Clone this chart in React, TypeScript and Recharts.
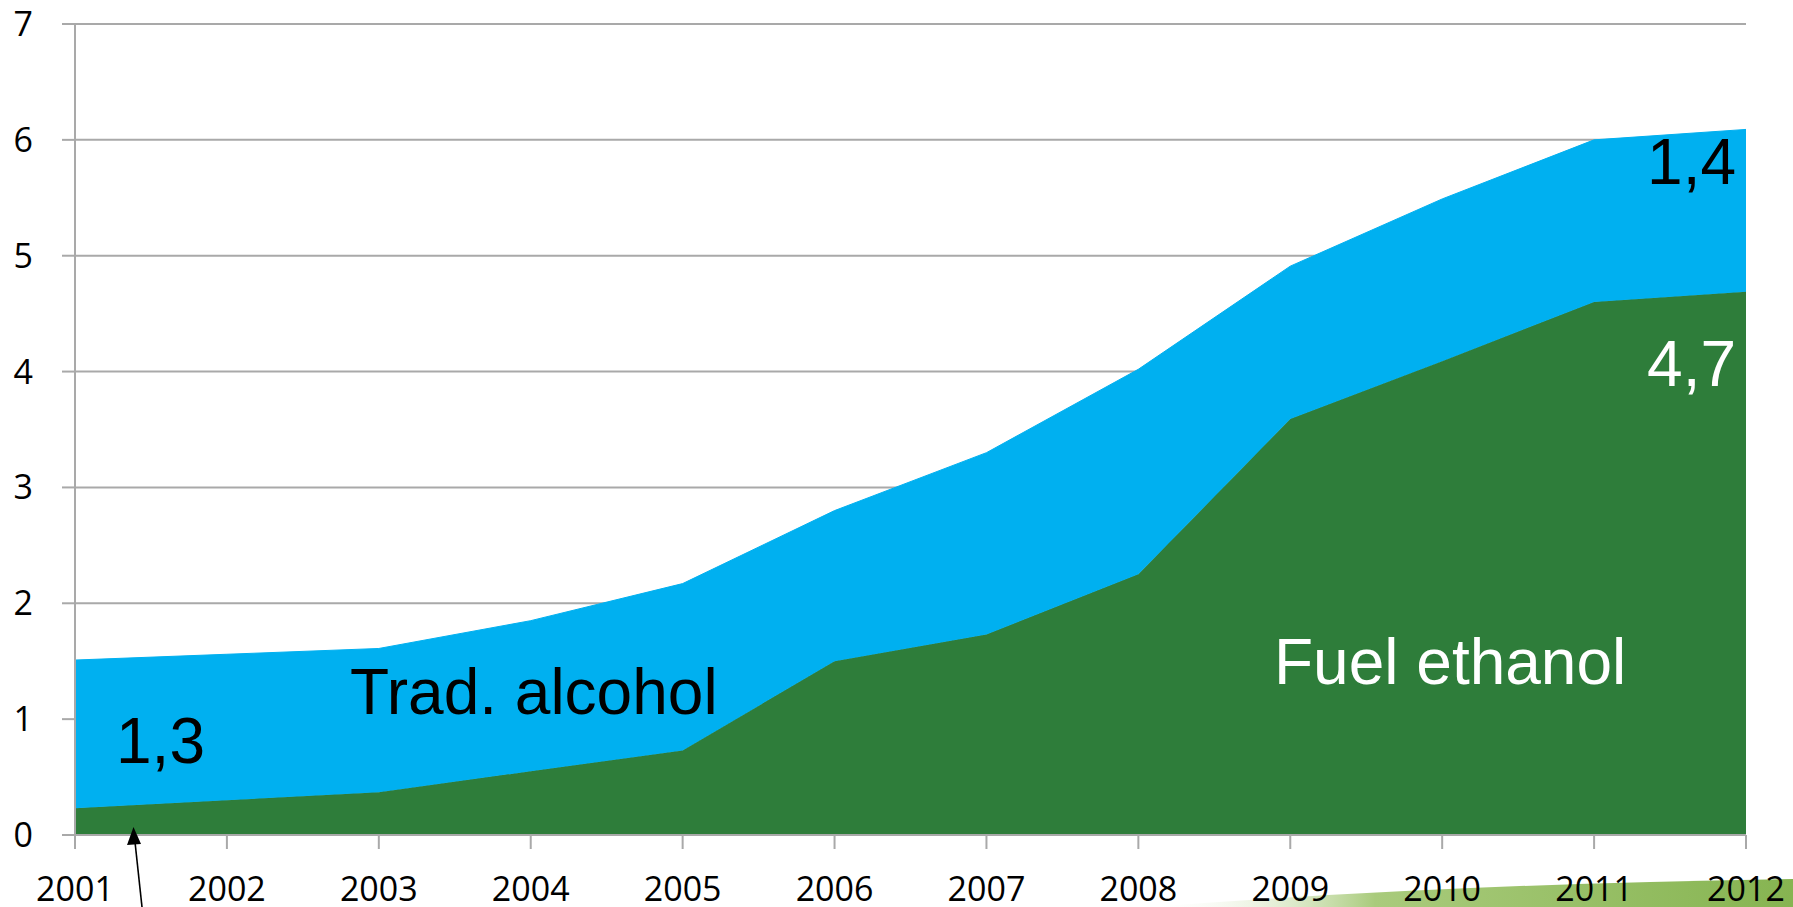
import React from "react";
import {
  AreaChart,
  Area,
  XAxis,
  YAxis,
  CartesianGrid,
} from "recharts";

// years on the x axis
const years = ["2001", "2002", "2003", "2004", "2005", "2006", "2007", "2008", "2009", "2010", "2011", "2012"];
// fuel ethanol (bottom layer)
const fuelEthanol = [0.23, 0.3, 0.37, 0.55, 0.73, 1.5, 1.73, 2.25, 3.59, 4.09, 4.6, 4.69];
// traditional alcohol (stacked on top)
const tradAlcohol = [1.28, 1.26, 1.24, 1.3, 1.44, 1.3, 1.57, 1.77, 1.32, 1.4, 1.4, 1.4];
const yTicks = [0, 1, 2, 3, 4, 5, 6, 7];

const data = years.map((year, i) => ({
  year,
  fuel: fuelEthanol[i],
  trad: tradAlcohol[i],
}));

const GRID = "#a9a9a9";
const tickStyle = { fontSize: 34, fill: "#000", fontFamily: "'Open Sans', sans-serif" };
const labelFont = "'Liberation Sans', Arial, sans-serif";

export default function App() {
  return (
    <div style={{ position: "absolute", left: 0, top: 0, width: 1793, height: 907, background: "#fff", overflow: "hidden" }}>
      {/* slide background swoosh, bottom right */}
      <svg width={1793} height={907} style={{ position: "absolute", left: 0, top: 0 }}>
        <defs>
          <linearGradient id="swoosh" x1="0" y1="0" x2="1" y2="0">
            <stop offset="0%" stopColor="#ffffff" stopOpacity={0} />
            <stop offset="35%" stopColor="#a9cb7c" />
            <stop offset="100%" stopColor="#86b451" />
          </linearGradient>
        </defs>
        <path d="M1150,907 Q1450,884 1793,879 L1793,907 Z" fill="url(#swoosh)" />
      </svg>

      <div style={{ position: "absolute", left: 0, top: 0 }}>
        <AreaChart
          width={1793}
          height={907}
          data={data}
          margin={{ top: 24, right: 47, left: 0, bottom: 0 }}
        >
          <CartesianGrid vertical={false} stroke={GRID} strokeWidth={2} />
          <XAxis
            dataKey="year"
            height={72}
            tick={tickStyle}
            tickSize={14}
            tickMargin={28}
            axisLine={{ stroke: GRID, strokeWidth: 2 }}
            tickLine={{ stroke: GRID, strokeWidth: 2 }}
            interval={0}
          />
          <YAxis
            domain={[0, 7]}
            ticks={yTicks}
            width={75}
            tick={tickStyle}
            tickSize={13}
            tickMargin={29}
            axisLine={{ stroke: GRID, strokeWidth: 2 }}
            tickLine={{ stroke: GRID, strokeWidth: 2 }}
          />
          <Area
            type="linear"
            dataKey="fuel"
            stackId="1"
            stroke="#2e7d3a"
            strokeWidth={1}
            fill="#2e7d3a"
            fillOpacity={1}
            isAnimationActive={false}
          />
          <Area
            type="linear"
            dataKey="trad"
            stackId="1"
            stroke="#00b0f0"
            strokeWidth={1}
            fill="#00b0f0"
            fillOpacity={1}
            isAnimationActive={false}
          />
        </AreaChart>
      </div>

      {/* annotations */}
      <svg width={1793} height={907} style={{ position: "absolute", left: 0, top: 0, pointerEvents: "none" }}>
        <g fontFamily={labelFont} fontSize={64}>
          <text x={116} y={763} fill="#000">1,3</text>
          <text x={350} y={714} fill="#000">Trad. alcohol</text>
          <text x={1274} y={684} fill="#fff">Fuel ethanol</text>
          <text x={1736} y={184} fill="#000" textAnchor="end">1,4</text>
          <text x={1736} y={386} fill="#fff" textAnchor="end">4,7</text>
        </g>
        <line x1={142} y1={907} x2={135} y2={842} stroke="#000" strokeWidth={1.6} />
        <polygon points="133.5,827 127,845 141,844" fill="#000" />
      </svg>
    </div>
  );
}
